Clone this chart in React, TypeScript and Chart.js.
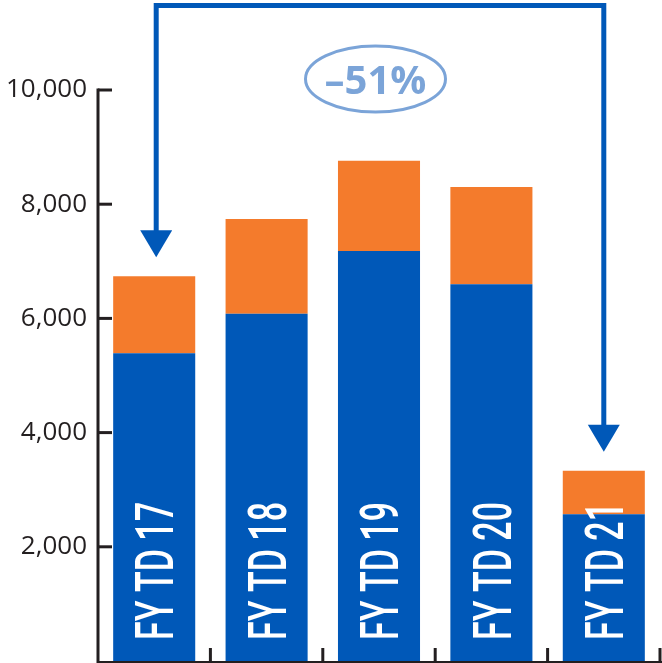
import React, { useEffect, useRef } from 'react';
import { Chart, registerables } from 'chart.js';

Chart.register(...registerables);

// ---- data ----
const categories = ['FY TD 17', 'FY TD 18', 'FY TD 19', 'FY TD 20', 'FY TD 21'];
const baseValues = [5390, 6080, 7180, 6600, 2570];
const topValues = [1350, 1660, 1580, 1700, 760];
const yMin = 0;
const yMax = 10000;
const yStep = 2000;
const changeLabel = '\u201351%';

// ---- styles ----
const BLUE = '#0058B8';
const ORANGE = '#F47B2C';
const AXIS = '#231F20';
const LIGHT = '#7BA4D8';

const overlay = {
  id: 'overlay',
  afterDatasetsDraw(chart: any) {
    const ctx = chart.ctx as CanvasRenderingContext2D;
    const area = chart.chartArea;
    const meta0 = chart.getDatasetMeta(0);
    meta0.data.forEach((bar: any, i: number) => {
      const text = categories[i];
      const fs = 54;
      ctx.save();
      ctx.font = `500 ${fs}px Roboto`;
      const w = ctx.measureText(text).width;
      const s = 138 / w;
      ctx.translate(bar.x, area.bottom - 21);
      ctx.rotate(-Math.PI / 2);
      ctx.scale(s, 1);
      ctx.fillStyle = '#FFFFFF';
      ctx.textAlign = 'left';
      ctx.textBaseline = 'alphabetic';
      ctx.fillText(text, 0, (fs * 0.711) / 2);
      ctx.restore();
    });
  },
  afterDraw(chart: any) {
    const ctx = chart.ctx as CanvasRenderingContext2D;
    const area = chart.chartArea;
    const xs = chart.scales.x;
    const ys = chart.scales.y;

    // axes
    ctx.save();
    ctx.strokeStyle = AXIS;
    ctx.lineWidth = 3;
    ctx.lineCap = 'butt';
    ctx.beginPath();
    ctx.moveTo(area.left, area.top - 1.5);
    ctx.lineTo(area.left, area.bottom + 1.5);
    ctx.lineTo(area.right + 2, area.bottom + 1.5);
    ctx.stroke();
    // y ticks (inward)
    for (let v = yMin + yStep; v <= yMax; v += yStep) {
      const y = ys.getPixelForValue(v);
      ctx.beginPath();
      ctx.moveTo(area.left, y);
      ctx.lineTo(area.left + 14, y);
      ctx.stroke();
    }
    // x ticks at category boundaries (inward)
    const n = categories.length;
    const cw = (area.right - area.left) / n;
    for (let i = 1; i <= n; i++) {
      const x = xs.getPixelForValue(i - 1) + cw / 2;
      ctx.beginPath();
      ctx.moveTo(x, area.bottom + 1.5);
      ctx.lineTo(x, area.bottom - 13);
      ctx.stroke();
    }
    ctx.restore();

    // bracket arrow from first to last bar
    const topMeta = chart.getDatasetMeta(1);
    const first = topMeta.data[0];
    const last = topMeta.data[n - 1];
    const x1 = first.x + 2;
    const x2 = last.x;
    const tip1 = first.y - 19;
    const tip2 = last.y - 19;
    const ah = 27;
    const aw = 16;
    const lineY = 5.5;
    ctx.save();
    ctx.strokeStyle = BLUE;
    ctx.fillStyle = BLUE;
    ctx.lineWidth = 5;
    ctx.lineJoin = 'miter';
    ctx.beginPath();
    ctx.moveTo(x1, tip1 - ah + 2);
    ctx.lineTo(x1, lineY);
    ctx.lineTo(x2, lineY);
    ctx.lineTo(x2, tip2 - ah + 2);
    ctx.stroke();
    [[x1, tip1], [x2, tip2]].forEach(([ax, ay]) => {
      ctx.beginPath();
      ctx.moveTo(ax - aw, ay - ah);
      ctx.lineTo(ax + aw, ay - ah);
      ctx.lineTo(ax, ay);
      ctx.closePath();
      ctx.fill();
    });
    ctx.restore();

    // ellipse with percentage
    const cx = 375.5;
    const cy = 79;
    ctx.save();
    ctx.strokeStyle = LIGHT;
    ctx.lineWidth = 3;
    ctx.beginPath();
    ctx.ellipse(cx, cy, 70, 33, 0, 0, Math.PI * 2);
    ctx.stroke();
    ctx.fillStyle = LIGHT;
    ctx.font = 'bold 40px "Open Sans"';
    ctx.textAlign = 'center';
    ctx.textBaseline = 'alphabetic';
    ctx.fillText(changeLabel, cx, cy + 14.5);
    ctx.restore();
  },
};

export default function App() {
  const ref = useRef<HTMLCanvasElement>(null);
  useEffect(() => {
    const chart = new Chart(ref.current as HTMLCanvasElement, {
      type: 'bar',
      data: {
        labels: categories,
        datasets: [
          {
            label: 'base',
            data: baseValues,
            backgroundColor: BLUE,
            borderWidth: 0,
            categoryPercentage: 1,
            barPercentage: 0.73,
          },
          {
            label: 'top',
            data: topValues,
            backgroundColor: ORANGE,
            borderWidth: 0,
            categoryPercentage: 1,
            barPercentage: 0.73,
          },
        ],
      },
      options: {
        animation: false,
        responsive: false,
        devicePixelRatio: 1,
        layout: { padding: { top: 90, right: 2, bottom: 2, left: 0 } },
        plugins: {
          legend: { display: false },
          tooltip: { enabled: false },
        },
        scales: {
          x: {
            display: false,
            stacked: true,
          },
          y: {
            stacked: true,
            min: yMin,
            max: yMax,
            afterBuildTicks: (scale: any) => {
              scale.ticks = scale.ticks.filter((t: any) => t.value !== 0);
            },
            afterFit: (scale: any) => {
              scale.width = 98;
              scale.paddingTop = 0;
              scale.paddingBottom = 0;
            },
            grid: { display: false, drawTicks: false },
            border: { display: false },
            ticks: {
              stepSize: yStep,
              padding: 11,
              color: AXIS,
              font: { family: '"Open Sans"', size: 26 },
              callback: (v: any) => Number(v).toLocaleString('en-US'),
            },
          },
        },
      },
      plugins: [overlay],
    });
    return () => chart.destroy();
  }, []);
  return (
    <div style={{ position: 'absolute', left: 0, top: 0, width: 662, height: 663 }}>
      <canvas ref={ref} width={662} height={663} style={{ display: 'block' }} />
    </div>
  );
}
